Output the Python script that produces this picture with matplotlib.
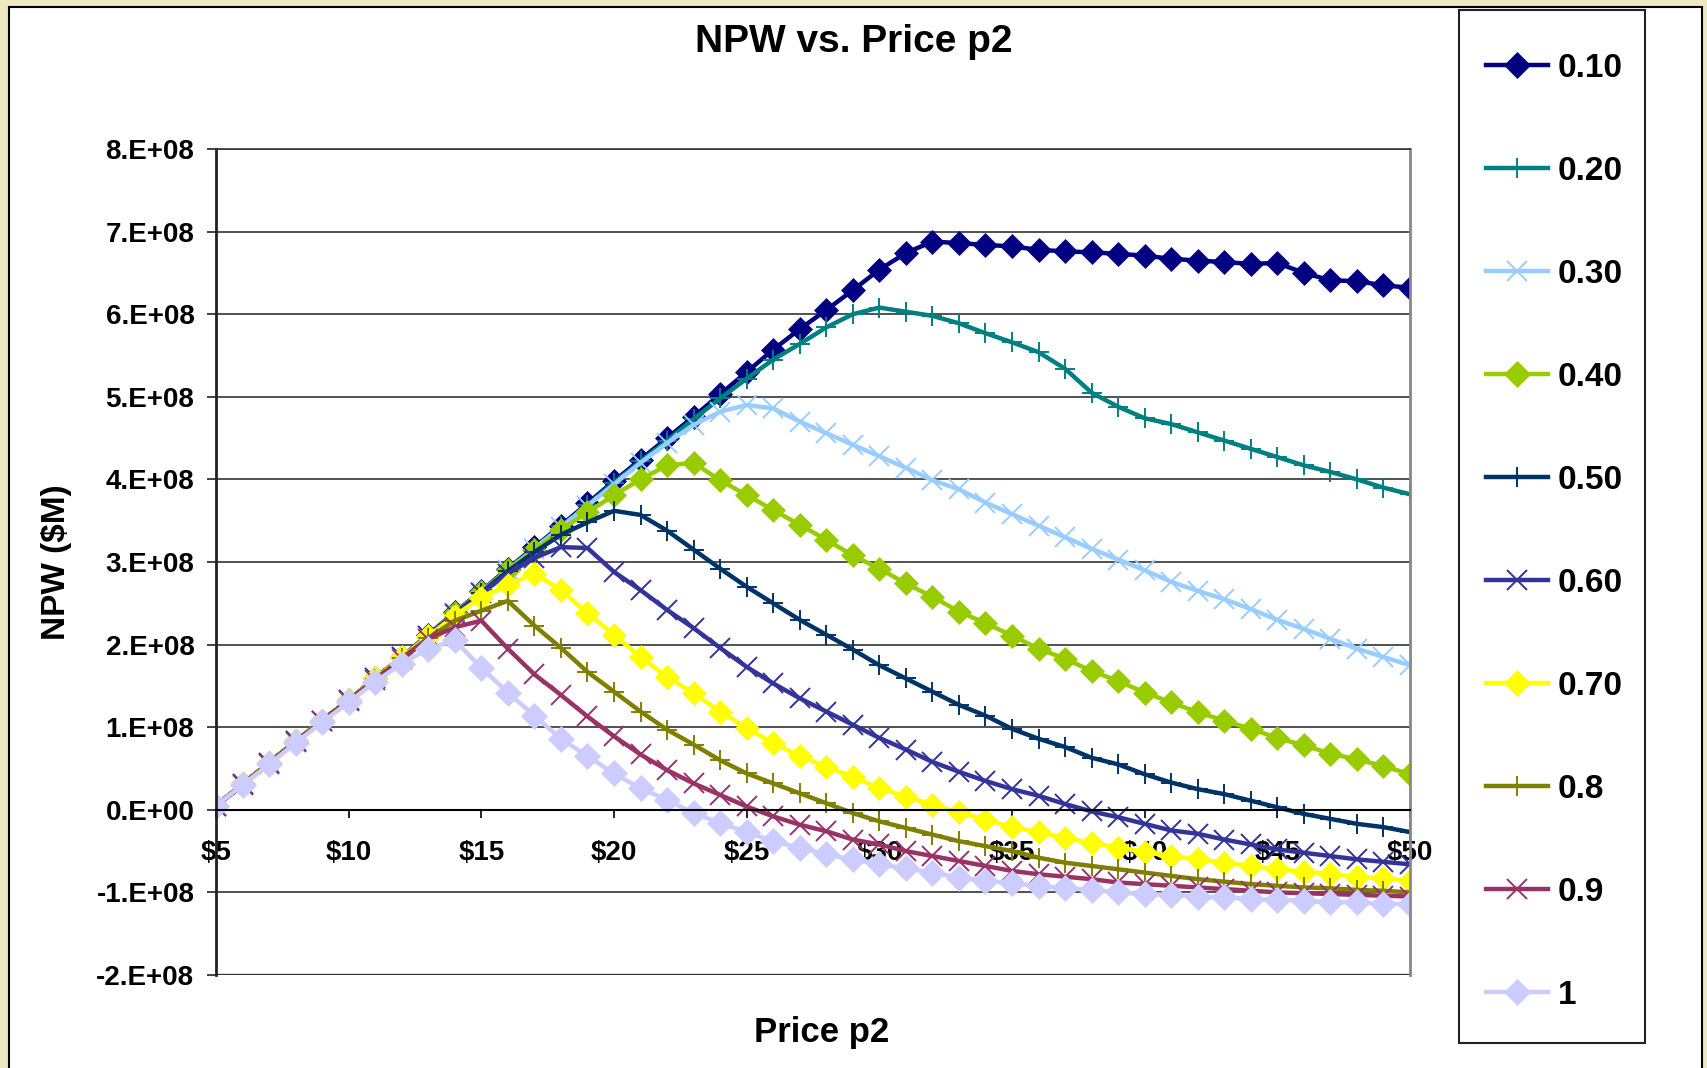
import numpy as np
import matplotlib
matplotlib.use("Agg")
import matplotlib.pyplot as plt
from matplotlib.patches import Rectangle

# price p2 in $, one point per dollar
price = list(range(5, 51))

# NPW in units of 1e8 $
npw_010 = [0.05, 0.31, 0.57, 0.83, 1.08, 1.33, 1.59, 1.85, 2.12, 2.39, 2.65, 2.92, 3.18, 3.44, 3.71, 3.98,
           4.24, 4.50, 4.76, 5.03, 5.30, 5.57, 5.82, 6.05, 6.29, 6.54, 6.74, 6.88, 6.86, 6.84,
           6.82, 6.78, 6.76, 6.75, 6.73, 6.71, 6.67, 6.65, 6.63, 6.61, 6.62, 6.50, 6.41, 6.40, 6.35, 6.32]
npw_020 = [0.05, 0.31, 0.57, 0.83, 1.08, 1.33, 1.59, 1.85, 2.11, 2.38, 2.64, 2.91, 3.17, 3.43, 3.69, 3.96,
           4.22, 4.47, 4.73, 4.98, 5.22, 5.45, 5.64, 5.84, 6.00, 6.08, 6.03, 5.98, 5.89, 5.77,
           5.66, 5.54, 5.34, 5.05, 4.88, 4.74, 4.67, 4.57, 4.47, 4.37, 4.27, 4.17, 4.09, 4.00, 3.90, 3.82]
npw_030 = [0.05, 0.31, 0.57, 0.83, 1.08, 1.33, 1.59, 1.85, 2.11, 2.38, 2.64, 2.90, 3.16, 3.42, 3.68, 3.94,
           4.20, 4.44, 4.66, 4.82, 4.90, 4.86, 4.70, 4.56, 4.42, 4.28, 4.14, 3.99, 3.88, 3.72,
           3.58, 3.44, 3.30, 3.16, 3.03, 2.90, 2.76, 2.65, 2.55, 2.43, 2.30, 2.19, 2.07, 1.95, 1.85, 1.75]
npw_040 = [0.05, 0.31, 0.57, 0.83, 1.08, 1.33, 1.59, 1.85, 2.11, 2.38, 2.64, 2.90, 3.14,
           3.39, 3.60, 3.81, 4.00, 4.17, 4.20, 3.99, 3.81, 3.63, 3.45, 3.27, 3.08, 2.92, 2.74, 2.58, 2.40, 2.26,
           2.11, 1.95, 1.83, 1.68, 1.56, 1.42, 1.30, 1.18, 1.08, 0.98, 0.87, 0.78, 0.68, 0.61, 0.53, 0.43]
npw_050 = [0.05, 0.31, 0.57, 0.83, 1.08, 1.33, 1.59, 1.85, 2.11, 2.37, 2.63, 2.89, 3.12,
           3.33, 3.48, 3.62, 3.57, 3.38, 3.15, 2.92, 2.70, 2.50, 2.30, 2.12, 1.94, 1.75, 1.59, 1.43, 1.27, 1.14,
           0.98, 0.86, 0.76, 0.63, 0.55, 0.43, 0.33, 0.25, 0.19, 0.11, 0.03, -0.05, -0.11, -0.17, -0.21, -0.27]
npw_060 = [0.05, 0.31, 0.57, 0.83, 1.08, 1.33, 1.59, 1.85, 2.11, 2.37, 2.62, 2.86,
           3.05, 3.18, 3.17, 2.88, 2.66, 2.42, 2.20, 1.96, 1.73, 1.53, 1.35, 1.19, 1.03, 0.87, 0.73, 0.58, 0.46, 0.35,
           0.25, 0.17, 0.07, -0.02, -0.09, -0.17, -0.25, -0.29, -0.36, -0.42, -0.48, -0.52, -0.56, -0.60, -0.63, -0.66]
npw_070 = [0.05, 0.31, 0.57, 0.83, 1.08, 1.33, 1.59, 1.85, 2.10,
           2.35, 2.57, 2.72, 2.86, 2.66, 2.38, 2.12, 1.85, 1.61, 1.41, 1.19, 0.99, 0.81, 0.65, 0.52, 0.40, 0.26,
           0.16, 0.06, -0.03, -0.12,
           -0.21, -0.27, -0.34, -0.40, -0.46, -0.51, -0.56, -0.60, -0.64, -0.68, -0.72, -0.75, -0.78, -0.81, -0.83, -0.86]
npw_08 = [0.05, 0.31, 0.57, 0.83, 1.08, 1.33, 1.58, 1.84, 2.08,
          2.29, 2.41, 2.53, 2.23, 1.96, 1.67, 1.43, 1.19, 0.97, 0.79, 0.60, 0.44, 0.32, 0.20, 0.08, -0.04, -0.14,
          -0.22, -0.30, -0.38, -0.44,
          -0.50, -0.58, -0.64, -0.68, -0.72, -0.76, -0.80, -0.84, -0.87, -0.90, -0.92, -0.94, -0.95, -0.97, -0.98, -1.00]
npw_09 = [0.04, 0.30, 0.56, 0.82, 1.07, 1.32, 1.57, 1.82,
          2.07, 2.21, 2.29, 1.95, 1.64, 1.39, 1.13, 0.89, 0.67, 0.48, 0.32, 0.18, 0.04, -0.08, -0.18, -0.26,
          -0.36, -0.42, -0.50, -0.56, -0.62, -0.68,
          -0.74, -0.78, -0.81, -0.84, -0.88, -0.90, -0.92, -0.94, -0.96, -0.98, -1.00, -1.01, -1.02, -1.03, -1.04, -1.05]
npw_1 = [0.05, 0.30, 0.55, 0.81, 1.06, 1.30, 1.55, 1.77,
         1.95, 2.05, 1.72, 1.42, 1.14, 0.86, 0.65, 0.44, 0.26, 0.12, -0.04, -0.16, -0.27, -0.38, -0.46, -0.54,
         -0.60, -0.66, -0.71, -0.76, -0.82, -0.86,
         -0.89, -0.92, -0.95, -0.97, -1.00, -1.02, -1.03, -1.05, -1.06, -1.08, -1.09, -1.10, -1.12, -1.12, -1.14, -1.14]

labels = ["0.10", "0.20", "0.30", "0.40", "0.50", "0.60", "0.70", "0.8", "0.9", "1"]
series = [npw_010, npw_020, npw_030, npw_040, npw_050, npw_060, npw_070, npw_08, npw_09, npw_1]
colors = ["#000080", "#008080", "#99CCFF", "#99CC00", "#003366",
          "#333399", "#FFFF00", "#808000", "#993366", "#CCCCFF"]
markers = ["D", "+", "x", "D", "+", "x", "D", "+", "x", "D"]

y_ticks = [-2, -1, 0, 1, 2, 3, 4, 5, 6, 7, 8]
y_ticklabels = ["-2.E+08", "-1.E+08", "0.E+00", "1.E+08", "2.E+08", "3.E+08",
                "4.E+08", "5.E+08", "6.E+08", "7.E+08", "8.E+08"]
x_ticks = [5, 10, 15, 20, 25, 30, 35, 40, 45, 50]
x_ticklabels = ["$5", "$10", "$15", "$20", "$25", "$30", "$35", "$40", "$45", "$50"]

plt.rcParams["font.family"] = ["Liberation Sans", "DejaVu Sans"]
plt.rcParams["font.weight"] = "bold"

W, H = 1707, 1068
fig = plt.figure(figsize=(W / 100, H / 100), dpi=100, facecolor="#ECE8C2")

# white chart area with thin black border
fig.patches.append(Rectangle((9 / W, -0.01), (1702 - 9) / W, (H - 7) / H + 0.01,
                             transform=fig.transFigure, facecolor="white",
                             edgecolor="black", linewidth=1.5, zorder=-2))
# legend box
fig.patches.append(Rectangle((1459 / W, 1 - 1043 / H), (1645 - 1459) / W, (1043 - 10) / H,
                             transform=fig.transFigure, facecolor="white",
                             edgecolor="#222222", linewidth=1.5, zorder=-1))

ax = fig.add_axes([216 / W, 1 - 975 / H, (1410 - 216) / W, (975 - 149) / H])
ax.set_facecolor("white")

xs = np.array(price)
for lab, vals, c, m in zip(labels, series, colors, markers):
    y = np.array(vals) * 1e8
    if m == "D":
        ms = 13 if lab == "1" else 12
        ax.plot(xs, y, color=c, lw=3.2, marker=m, markersize=ms,
                markerfacecolor=c, markeredgecolor=c, markeredgewidth=0.5,
                label=lab, solid_joinstyle="round")
    else:
        ax.plot(xs, y, color=c, lw=3.2, marker=m, markersize=14,
                markeredgecolor=c, markeredgewidth=1.4, label=lab,
                solid_joinstyle="round")

ax.set_xlim(5, 50)
ax.set_ylim(-2e8, 8e8)
ax.set_yticks([v * 1e8 for v in y_ticks])
ax.set_yticklabels(y_ticklabels)
ax.set_xticks(x_ticks)
ax.set_xticklabels(x_ticklabels)

ax.grid(axis="y", color="#333333", linewidth=1.2)
ax.grid(axis="x", visible=False)
ax.set_axisbelow(True)

ax.spines["bottom"].set_position(("data", 0))
ax.spines["bottom"].set_color("black")
ax.spines["bottom"].set_linewidth(1.5)
ax.spines["left"].set_color("#222222")
ax.spines["left"].set_linewidth(2)
ax.spines["right"].set_color("#888888")
ax.spines["right"].set_linewidth(2)
ax.spines["top"].set_color("#333333")
ax.spines["top"].set_linewidth(1.2)
ax.axhline(-2e8, color="#333333", linewidth=2.4, zorder=0.5)

ax.tick_params(axis="y", direction="out", length=6.5, width=1.2, pad=9,
               labelsize=20, color="#222222")
ax.tick_params(axis="x", direction="out", length=6, width=1.2, pad=16,
               labelsize=20, color="black")
for t in ax.get_xticklabels() + ax.get_yticklabels():
    t.set_fontweight("bold")

fig.text(854 / W, 1 - 52 / H, "NPW vs. Price p2", ha="center", va="baseline",
         fontsize=28, fontweight="bold")
fig.text(822 / W, 1 - 1042 / H, "Price p2", ha="center", va="baseline",
         fontsize=25, fontweight="bold")
fig.text(56.7 / W, 1 - 562 / H, "NPW ($M)", ha="center", va="center",
         rotation=90, fontsize=24, fontweight="bold")

handles, hl = ax.get_legend_handles_labels()
leg = fig.legend(handles, hl, loc="center left",
                 bbox_to_anchor=(1486 / W, 1 - 532 / H),
                 frameon=False, fontsize=24, numpoints=1,
                 labelspacing=2.16, handlelength=1.85, handletextpad=0.3,
                 borderpad=0, borderaxespad=0)
for line in leg.get_lines():
    if line.get_marker() == "D":
        line.set_markersize(13)
    else:
        line.set_markersize(15)
for t in leg.get_texts():
    t.set_fontweight("bold")

fig.savefig("out.png", dpi=100, facecolor=fig.get_facecolor())
